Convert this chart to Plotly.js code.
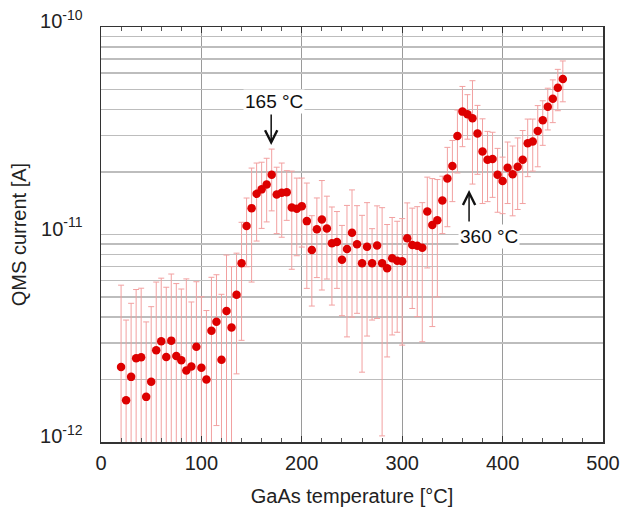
<!DOCTYPE html>
<html>
<head>
<meta charset="utf-8">
<script src="https://cdn.plot.ly/plotly-3.0.1.min.js"></script>
<style>html,body{margin:0;padding:0;background:#fff;}#chart{width:623px;height:508px;}</style>
</head>
<body>
<div id="chart"></div>
<script>
// GaAs temperature [°C]
var temperature = [20,25,30,35,40,45,50,55,60,65,70,75,80,85,90,95,100,105,110,115,
  120,125,130,135,140,145,150,155,160,165,170,175,180,185,190,195,200,205,210,215,
  220,225,230,235,240,245,250,255,260,265,270,275,280,285,290,295,300,305,310,315,
  320,325,330,335,340,345,350,355,360,365,370,375,380,385,390,395,400,405,410,415,
  420,425,430,435,440,445,450,455,460];

// QMS current [A]
var current = [2.30e-12,1.59e-12,2.06e-12,2.53e-12,2.56e-12,1.65e-12,1.95e-12,2.77e-12,3.06e-12,2.57e-12,
  3.08e-12,2.60e-12,2.48e-12,2.21e-12,2.31e-12,2.88e-12,2.28e-12,2.00e-12,3.44e-12,3.80e-12,
  2.49e-12,4.28e-12,3.56e-12,5.13e-12,7.27e-12,1.099e-11,1.34e-11,1.57e-11,1.65e-11,1.74e-11,
  1.94e-11,1.56e-11,1.59e-11,1.60e-11,1.35e-11,1.33e-11,1.37e-11,1.16e-11,8.42e-12,1.06e-11,
  1.18e-11,1.07e-11,9.07e-12,9.20e-12,7.56e-12,8.51e-12,1.02e-11,8.97e-12,7.27e-12,8.74e-12,
  7.27e-12,8.84e-12,7.27e-12,6.87e-12,7.68e-12,7.48e-12,7.43e-12,9.60e-12,8.90e-12,8.82e-12,
  8.64e-12,1.29e-11,1.11e-11,1.17e-11,1.46e-11,1.86e-11,2.14e-11,2.98e-11,3.91e-11,3.80e-11,
  3.63e-11,3.07e-11,2.51e-11,2.29e-11,2.31e-11,1.94e-11,1.81e-11,2.10e-11,1.95e-11,2.12e-11,
  2.29e-11,2.75e-11,2.81e-11,3.15e-11,3.55e-11,4.13e-11,4.51e-11,5.10e-11,5.61e-11];

// error (+/-) [A]
var currentError = [3.4e-12,2.28e-12,2.6e-12,2.9e-12,2.95e-12,2.14e-12,2.54e-12,3.13e-12,3.1e-12,3.0e-12,
  3.37e-12,3.2e-12,2.98e-12,3.9e-12,2.42e-12,3.04e-12,2.73e-12,2.3e-12,2.78e-12,2.6e-12,
  2.66e-12,3.68e-12,3.44e-12,3.0e-12,4.18e-12,4.0e-12,7.5e-12,6.4e-12,5.8e-12,5.9e-12,
  6.4e-12,5.5e-12,6.2e-12,4.3e-12,6.7e-12,5.4e-12,5.0e-12,6.1e-12,3.9e-12,4.4e-12,
  6.4e-12,4.6e-12,4.5e-12,3.7e-12,3.5e-12,5.3e-12,6.2e-12,4.8e-12,5.1e-12,5.5e-12,
  3.4e-12,4.9e-12,6.2e-12,4.3e-12,4.4e-12,4.1e-12,4.5e-12,4.6e-12,4.5e-12,4.8e-12,
  5.6e-12,6.0e-12,7.5e-12,6.7e-12,4.5e-12,7.7e-12,7.0e-12,1.0e-11,1.26e-11,9.2e-12,
  1.88e-11,1.12e-11,1.10e-11,8.5e-12,8.0e-12,6.6e-12,5.5e-12,6.9e-12,7.2e-12,8.0e-12,
  8.8e-12,8.5e-12,7.9e-12,1.03e-11,8.6e-12,9.4e-12,1.05e-11,1.15e-11,1.25e-11];

var yTickVals = [1e-12,2e-12,3e-12,4e-12,5e-12,6e-12,7e-12,8e-12,9e-12,
  1e-11,2e-11,3e-11,4e-11,5e-11,6e-11,7e-11,8e-11,9e-11,1e-10];
var yTickText = ['10<sup>-12</sup>','','','','','','','','',
  '10<sup>-11</sup>','','','','','','','','',
  '10<sup>-10</sup>'];
var xTickVals = [0,100,200,300,400,500];
var xTickText = ['0','100','200','300','400','500'];

var trace = {
  x: temperature,
  y: current,
  type: 'scatter',
  mode: 'markers',
  marker: {color: '#dd0000', size: 8.5},
  error_y: {type: 'data', array: currentError, visible: true, color: '#f2a0a0', thickness: 1, width: 3},
  hoverinfo: 'x+y'
};

var fontFam = '"Liberation Sans", Arial, sans-serif';
var layout = {
  width: 623, height: 508,
  margin: {l: 101, r: 20, t: 27, b: 66},
  paper_bgcolor: '#ffffff',
  plot_bgcolor: '#ffffff',
  showlegend: false,
  font: {family: fontFam, size: 19, color: '#222222'},
  xaxis: {
    range: [0, 500],
    tickvals: xTickVals, ticktext: xTickText,
    tickfont: {size: 20},
    showgrid: true, gridcolor: '#9a9a9a', gridwidth: 1,
    zeroline: false,
    showline: true, linecolor: '#333333', linewidth: 1.5, mirror: 'allticks',
    ticks: 'inside', ticklen: 6, tickcolor: '#333333', tickwidth: 1,
    minor: {dtick: 20, tick0: 0, ticks: 'inside', ticklen: 4, tickcolor: '#555555', showgrid: false},
    ticklabelstandoff: 2,
    title: {text: 'GaAs temperature [°C]', standoff: 16, font: {size: 20}}
  },
  yaxis: {
    type: 'log',
    range: [-12, -10],
    tickvals: yTickVals, ticktext: yTickText,
    tickfont: {size: 20},
    showgrid: true, gridcolor: '#bdbdbd', gridwidth: 1.5,
    zeroline: false,
    showline: true, linecolor: '#333333', linewidth: 1.5, mirror: true,
    ticks: '',
    ticklabelstandoff: 13,
    ticklabelshift: -6,
    title: {text: 'QMS current [A]', standoff: 8, font: {size: 20}}
  },
  annotations: [
    {x: 169.5, y: -10.569, xref: 'x', yref: 'y', text: '', showarrow: true,
     axref: 'pixel', ayref: 'pixel', ax: 0, ay: -32,
     arrowhead: 5, arrowsize: 1.6, arrowwidth: 1.5, arrowcolor: '#111111'},
    {x: 172, y: -10.357, xref: 'x', yref: 'y', text: '165 °C', showarrow: false,
     bgcolor: '#ffffff', font: {size: 19, color: '#111111'}},
    {x: 366.6, y: -10.786, xref: 'x', yref: 'y', text: '', showarrow: true,
     axref: 'pixel', ayref: 'pixel', ax: 0, ay: 33,
     arrowhead: 5, arrowsize: 1.6, arrowwidth: 1.5, arrowcolor: '#111111'},
    {x: 386, y: -11.012, xref: 'x', yref: 'y', text: '360 °C', showarrow: false,
     bgcolor: '#ffffff', font: {size: 19, color: '#111111'}}
  ]
};

Plotly.newPlot('chart', [trace], layout, {displayModeBar: false, staticPlot: true});
</script>
</body>
</html>
